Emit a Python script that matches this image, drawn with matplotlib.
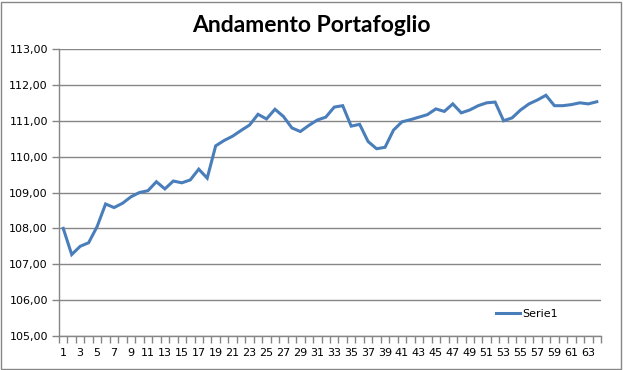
import numpy as np
import matplotlib
matplotlib.use("Agg")
import matplotlib.pyplot as plt
from matplotlib.patches import Rectangle
from matplotlib.ticker import FuncFormatter

# dati
periodi = list(range(1, 65))
valori = [
    108.00, 107.27, 107.50, 107.60, 108.05, 108.68, 108.58, 108.70,
    108.88, 109.00, 109.05, 109.30, 109.10, 109.32, 109.27, 109.35,
    109.65, 109.40, 110.30, 110.45, 110.57, 110.73, 110.88, 111.18,
    111.05, 111.32, 111.12, 110.80, 110.70, 110.87, 111.02, 111.10,
    111.38, 111.42, 110.85, 110.90, 110.42, 110.22, 110.26, 110.74,
    110.97, 111.03, 111.10, 111.17, 111.33, 111.26, 111.47, 111.22,
    111.30, 111.42, 111.50, 111.52, 111.00, 111.08, 111.30, 111.47,
    111.58, 111.71, 111.42, 111.42, 111.45, 111.50, 111.47, 111.53,
]
titolo = "Andamento Portafoglio"
nome_serie = "Serie1"
y_ticks = [105, 106, 107, 108, 109, 110, 111, 112, 113]

fig = plt.figure(figsize=(6.23, 3.70), dpi=100)
ax = fig.add_axes([59 / 623, 1 - 336 / 370, 542 / 623, 287 / 370])

ax.plot(periodi, valori, color="#4a7ebb", linewidth=2.2, label=nome_serie,
        solid_joinstyle="miter")

ax.set_xlim(0.5, len(periodi) + 0.5)
ax.set_ylim(105, 113)
ax.set_yticks(y_ticks)
ax.yaxis.set_major_formatter(FuncFormatter(lambda v, p: f"{v:.2f}".replace(".", ",")))
ax.grid(axis="y", color="#868686", linewidth=1.0)
ax.set_axisbelow(True)

# tacche ai confini delle categorie, etichette ogni due
ax.set_xticks(np.arange(0.5, len(periodi) + 1, 1))
ax.set_xticklabels([])
ax.set_xticks(periodi[::2], minor=True)
ax.set_xticklabels([str(p) for p in periodi[::2]], minor=True)
ax.tick_params(axis="x", which="major", length=5, width=1, color="#868686", direction="out")
ax.tick_params(axis="x", which="minor", length=0, pad=9, labelsize=8)
ax.tick_params(axis="y", length=5, width=1, color="#868686", labelsize=8, pad=3)

for s in ["top", "right"]:
    ax.spines[s].set_visible(False)
for s in ["left", "bottom"]:
    ax.spines[s].set_color("#868686")
    ax.spines[s].set_linewidth(1.0)

fig.text(0.5, 1 - 25 / 370, titolo, ha="center", va="center",
         fontsize=16.5, fontweight="bold", family="Lato")

ax.legend(loc="lower left", bbox_to_anchor=(431 / 542, 0.04), frameon=False,
          fontsize=8, handlelength=2.2, handletextpad=0.2, borderpad=0)

fig.patches.append(Rectangle((1 / 623, 1 / 370), 620 / 623, 367 / 370,
                             transform=fig.transFigure, fill=False,
                             edgecolor="#868686", linewidth=1.0))

fig.savefig("out.png", dpi=100)
